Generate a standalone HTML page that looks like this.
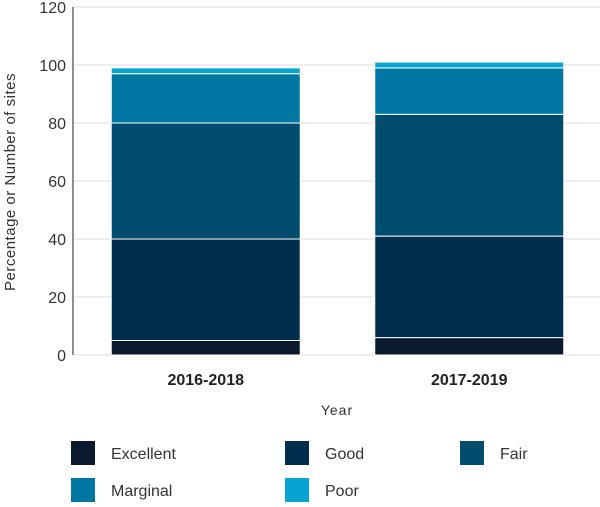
<!DOCTYPE html>
<html><head><meta charset="utf-8"><style>
body{margin:0;background:#fff;font-family:"Liberation Sans",sans-serif}
</style></head><body>
<svg id="chart" width="600" height="502" xmlns="http://www.w3.org/2000/svg"></svg>
<script>
const categories=["2016-2018","2017-2019"];
const seriesNames=["Excellent","Good","Fair","Marginal","Poor"];
const excellent=[5,6];
const good=[35,35];
const fair=[40,42];
const marginal=[17,16];
const poor=[2,2];
const yTicks=[0,20,40,60,80,100,120];
const colors=["#0a1a2c","#012e4d","#004c6e","#0077a3","#07a4d2"];
const svg=document.getElementById('chart');
const NS="http://www.w3.org/2000/svg";
const y0=355,yTop=7,ymax=120;
const y=v=>y0-(v/ymax)*(y0-yTop);
const xl=73,xr=600,bw=189;
const bandW=(xr-xl)/categories.length;
const xc=i=>xl+bandW*(i+0.5)+1;
function mk(t,a,txt){const e=document.createElementNS(NS,t);for(const k in a)e.setAttribute(k,a[k]);if(txt!==undefined)e.textContent=txt;svg.appendChild(e);return e;}
yTicks.forEach(t=>{
 const g=mk('line',{x1:xl,x2:xr,y1:y(t),y2:y(t),stroke:'#dcdcdc','stroke-width':1});
 
 
 const l=mk('text',{x:66,y:y(t)+6,'text-anchor':'end','font-size':16,fill:'#333'},t);
 
 
});
const ax=mk('line',{x1:xl,x2:xl,y1:yTop,y2:y0,stroke:'#222','stroke-width':1});


const series=[excellent,good,fair,marginal,poor];
categories.forEach((c,i)=>{
 let acc=0;
 series.forEach((s,j)=>{
  const r=mk('rect',{x:xc(i)-bw/2,y:y(acc+s[i]),width:bw,height:y(acc)-y(acc+s[i]),fill:colors[j],stroke:'#fff','stroke-width':1});
  
  
  acc+=s[i];
 });
 const t=mk('text',{x:xc(i),y:385,'text-anchor':'middle','font-size':16,'font-weight':'bold',fill:'#222'},c);
 
 
});
const xt=mk('text',{x:337,y:415,'text-anchor':'middle','font-size':14,fill:'#333','letter-spacing':'1'},'Year');


const yt=mk('text',{x:15,y:182,'text-anchor':'middle','font-size':15,fill:'#333',transform:'rotate(-90 15 182)','letter-spacing':'0.5'},'Percentage or Number of sites');


const lx=[71,285,460,71,285],ly=[441,441,441,478,478];
seriesNames.forEach((n,j)=>{
 const r=mk('rect',{x:lx[j],y:ly[j],width:24,height:24,fill:colors[j]});
 
 
 const t=mk('text',{x:lx[j]+40,y:ly[j]+18,'font-size':16,fill:'#333'},n);
 
 
});
</script>
</body></html>
